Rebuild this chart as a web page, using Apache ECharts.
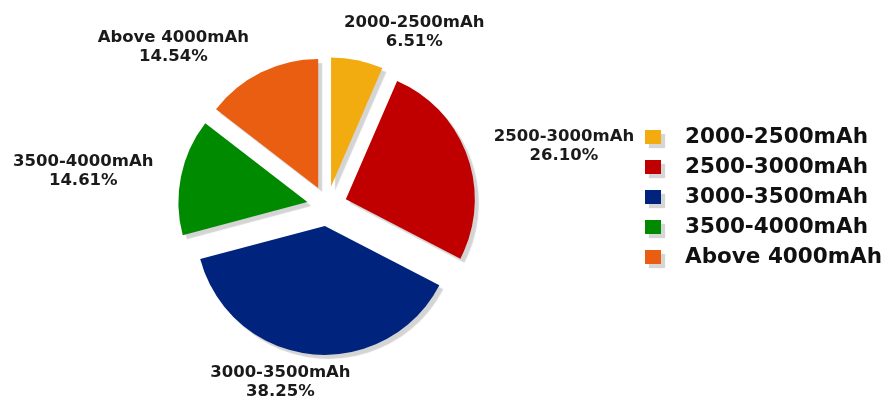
<!DOCTYPE html>
<html>
<head>
<meta charset="utf-8">
<title>Battery capacity share</title>
<script src="https://cdn.jsdelivr.net/npm/echarts@6/dist/echarts.min.js"></script>
<style>
  html, body { margin: 0; padding: 0; background: #ffffff; }
  #chart { width: 889px; height: 402px; }
</style>
</head>
<body>
<div id="chart"></div>
<script>
// Capacity bands and their share (%) of the total
const categories = ['2000-2500mAh', '2500-3000mAh', '3000-3500mAh', '3500-4000mAh', 'Above 4000mAh'];
const shares = [6.51, 26.10, 38.25, 14.61, 14.54];
const colors = ['#F2AC10', '#C00000', '#00247D', '#008A00', '#E95E10'];

const total = shares.reduce((a, b) => a + b, 0);
// mid angle of each slice, clockwise from 12 o'clock
const midAngles = [];
let acc = 0;
shares.forEach(v => {
  midAngles.push((acc + v / 2) / total * Math.PI * 2);
  acc += v;
});

const FONT = '"DejaVu Sans", "Liberation Sans", Arial, sans-serif';

const chart = echarts.init(document.getElementById('chart'), null, { renderer: 'canvas' });

chart.setOption({
  backgroundColor: '#ffffff',
  animation: false,
  color: colors,
  legend: {
    orient: 'vertical',
    left: 645,
    top: 126,
    padding: 0,
    itemWidth: 16,
    itemHeight: 14,
    itemGap: 8,
    icon: 'rect',
    selectedMode: false,
    itemStyle: {
      borderWidth: 0,
      shadowColor: 'rgba(0,0,0,0.16)',
      shadowBlur: 1,
      shadowOffsetX: 4,
      shadowOffsetY: 4
    },
    textStyle: {
      fontFamily: FONT,
      fontWeight: 'bold',
      fontSize: 21.5,
      lineHeight: 22,
      color: '#111111',
      padding: [0, 0, 0, 19]
    },
    data: categories
  },
  series: [{
    type: 'pie',
    center: [327, 206],
    radius: 129,
    startAngle: 90,
    clockwise: true,
    selectedMode: 'multiple',
    selectedOffset: 20,
    avoidLabelOverlap: false,
    itemStyle: {
      borderWidth: 0,
      shadowColor: 'rgba(0,0,0,0.17)',
      shadowBlur: 1,
      shadowOffsetX: 4,
      shadowOffsetY: 4
    },
    select: {
      itemStyle: { borderWidth: 0 }
    },
    emphasis: { disabled: true },
    label: {
      show: true,
      position: 'outside',
      distanceToLabelLine: 0,
      fontFamily: FONT,
      fontWeight: 'bold',
      fontSize: 16.5,
      lineHeight: 19,
      color: '#1a1a1a',
      formatter: p => p.name + '\n' + p.value.toFixed(2) + '%'
    },
    labelLine: { show: false, length: 28, length2: 0 },
    // centre the two text lines and slide near-vertical labels across the slice axis
    labelLayout: function (params) {
      const s = Math.sin(midAngles[params.dataIndex]);
      const w = params.labelRect.width;
      const f = Math.min(1, Math.max(0, 0.5 - 1.8 * s));
      return { align: 'center', dx: w / 2 - w * f };
    },
    data: categories.map((name, i) => ({ name: name, value: shares[i], selected: true }))
  }]
});
</script>
</body>
</html>
